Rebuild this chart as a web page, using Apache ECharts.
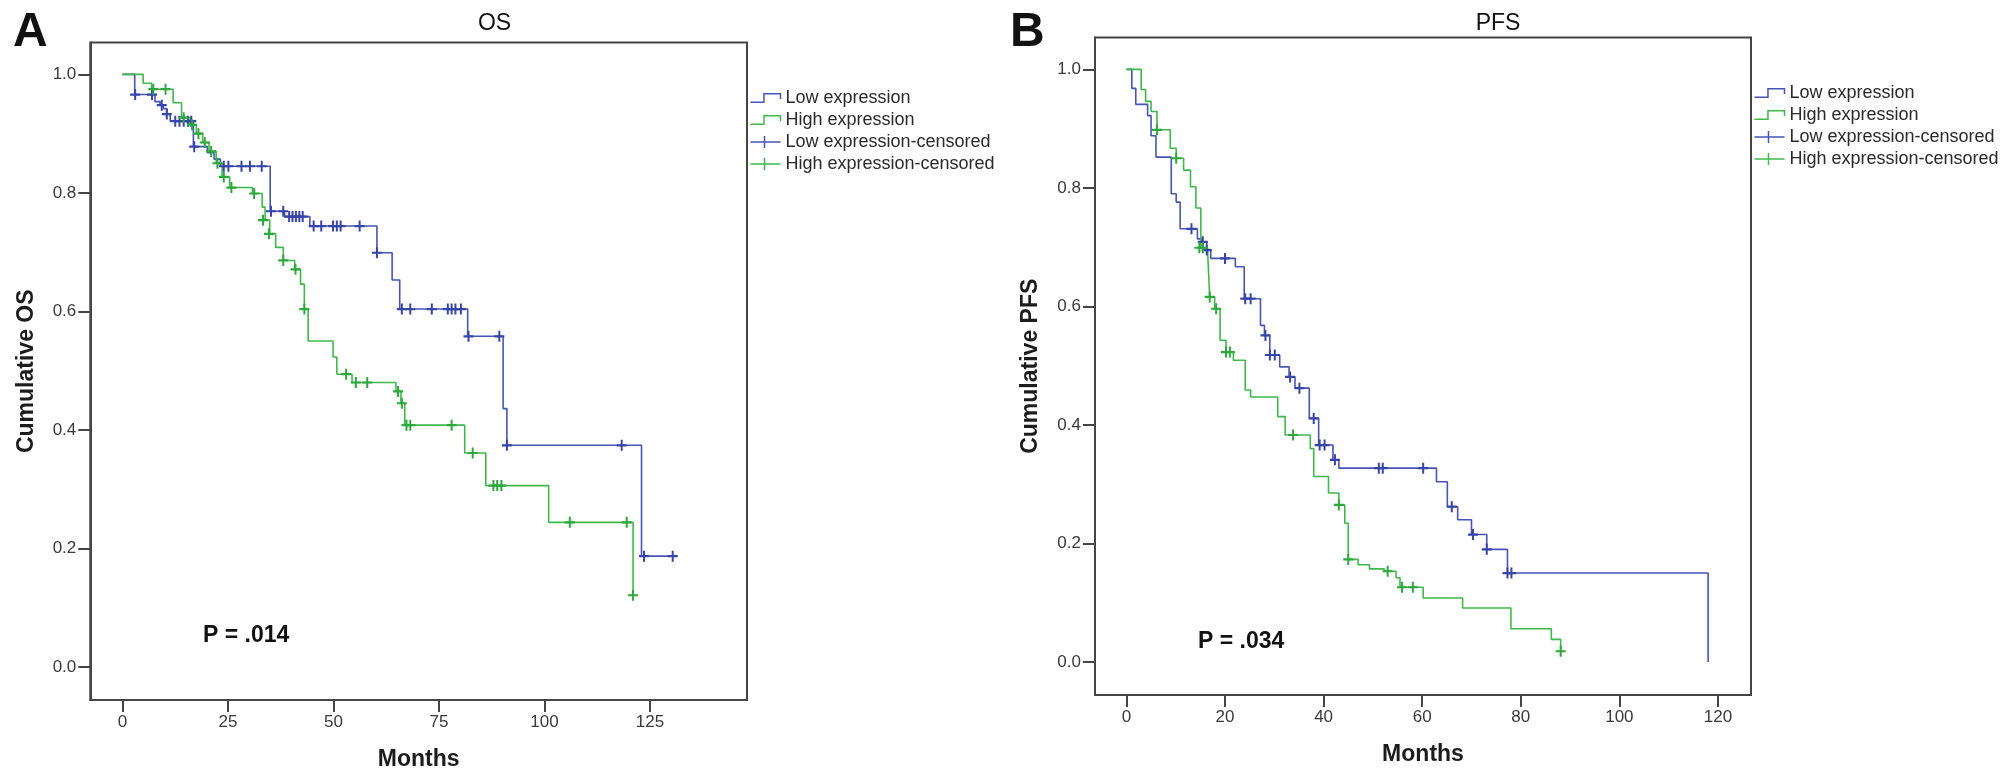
<!DOCTYPE html>
<html>
<head>
<meta charset="utf-8">
<script src="https://cdn.jsdelivr.net/npm/echarts@6/dist/echarts.min.js"></script>
<style>
html,body{margin:0;padding:0;background:#fff;}
#chart{width:2008px;height:782px;}
</style>
</head>
<body>
<div id="chart"></div>
<script>
// ---------- tick labels ----------
const osTicksX = [0, 25, 50, 75, 100, 125];
const pfsTicksX = [0, 20, 40, 60, 80, 100, 120];
const survTicks = [0, 0.2, 0.4, 0.6, 0.8, 1.0];
const legendNames = ['Low expression', 'High expression', 'Low expression-censored', 'High expression-censored'];

// ---------- OS (panel A) : [months, cumulative survival] ----------
const osLowSteps = [[0,1],[2.9,0.966],[7.7,0.954],[8.9,0.948],[9.7,0.942],[10.5,0.933],[11.3,0.921],[16.8,0.878],[20.1,0.868],[21.7,0.857],[23.2,0.845],[35,0.769],[38.4,0.76],[44.4,0.744],[60.3,0.699],[63.9,0.653],[65.7,0.604],[81.8,0.558],[90.2,0.436],[91.1,0.374],[123,0.187],[131,0.187]];
const osHighSteps = [[0,1],[4.9,0.985],[6.9,0.975],[12,0.952],[14,0.927],[16,0.915],[17.5,0.9],[19,0.885],[20.5,0.87],[22.2,0.85],[23.6,0.827],[25.4,0.809],[30.8,0.799],[33.1,0.776],[33.8,0.754],[34.9,0.731],[36.3,0.708],[38.1,0.686],[40.8,0.671],[42.2,0.646],[43.1,0.604],[44,0.55],[49.9,0.523],[50.8,0.494],[54.4,0.48],[64.8,0.465],[66,0.445],[66.9,0.408],[81.1,0.361],[86.1,0.306],[101,0.244],[121,0.121]];
const osLowCensored = [[3,0.966],[7,0.966],[9.3,0.948],[10.5,0.933],[12.5,0.921],[13.5,0.921],[14.5,0.921],[15.5,0.921],[16.3,0.921],[17,0.878],[24,0.845],[25.1,0.845],[28.2,0.845],[30.2,0.845],[33,0.845],[35.2,0.769],[38.1,0.769],[39.5,0.76],[40.3,0.76],[41.1,0.76],[41.9,0.76],[42.7,0.76],[45.3,0.744],[47.1,0.744],[49.9,0.744],[50.8,0.744],[51.7,0.744],[56.2,0.744],[60.3,0.699],[66.2,0.604],[68.2,0.604],[73.3,0.604],[77.1,0.604],[78,0.604],[78.9,0.604],[80.2,0.604],[82,0.558],[89.3,0.558],[91.1,0.374],[118.3,0.374],[123.6,0.187],[130.4,0.187]];
const osHighCensored = [[7.3,0.975],[10.2,0.975],[14.5,0.927],[16.5,0.915],[18,0.9],[19.5,0.885],[21,0.87],[22.5,0.85],[24,0.827],[25.8,0.809],[31.2,0.799],[33.3,0.754],[34.7,0.731],[38.1,0.686],[41,0.671],[43.1,0.604],[53,0.494],[55.3,0.48],[58,0.48],[65.3,0.465],[66.2,0.445],[67.3,0.408],[68.2,0.408],[78,0.408],[83,0.361],[87.9,0.306],[88.8,0.306],[89.8,0.306],[106,0.244],[119.5,0.244],[121,0.121]];

// ---------- PFS (panel B) ----------
const pfsLowSteps = [[0,1],[1.1,0.968],[1.9,0.941],[4.3,0.922],[5,0.888],[6,0.852],[9.1,0.79],[10.1,0.776],[10.9,0.731],[14.4,0.714],[15.2,0.709],[16.3,0.695],[17.1,0.681],[22.1,0.667],[23.9,0.613],[27.2,0.568],[28,0.551],[29.1,0.518],[31.1,0.498],[33,0.481],[34.2,0.462],[37.1,0.411],[39,0.366],[41.9,0.341],[43.1,0.327],[62.9,0.304],[65.1,0.262],[67.2,0.24],[70,0.215],[73.1,0.19],[77.3,0.15],[118,0.0]];
const pfsHighSteps = [[0,1],[3,0.966],[3.9,0.946],[5,0.929],[6.2,0.898],[8.9,0.867],[10.1,0.85],[11.6,0.83],[13,0.802],[14.1,0.766],[15.1,0.699],[16.5,0.688],[16.9,0.616],[17.9,0.596],[19,0.543],[20.2,0.523],[21.7,0.509],[24.1,0.459],[25.2,0.447],[30.7,0.414],[32.2,0.383],[37.3,0.36],[38,0.313],[41,0.285],[43.1,0.265],[44.3,0.234],[45,0.173],[47,0.164],[49.3,0.157],[52.3,0.153],[54.7,0.142],[55.5,0.126],[60.2,0.108],[68.2,0.091],[78,0.056],[86.2,0.038],[88.1,0.018]];
const pfsLowCensored = [[13.2,0.731],[15.5,0.709],[16.3,0.695],[20,0.681],[24.1,0.613],[25.2,0.613],[28.2,0.551],[29.1,0.518],[30.1,0.518],[33.2,0.481],[35.1,0.462],[38,0.411],[39.2,0.366],[40.2,0.366],[42.3,0.341],[51.2,0.327],[52,0.327],[60.2,0.327],[66,0.262],[70.3,0.215],[73.1,0.19],[77.3,0.15],[78.1,0.15]];
const pfsHighCensored = [[6.2,0.898],[10.1,0.85],[14.8,0.699],[15.5,0.699],[16.9,0.616],[18.2,0.596],[20.2,0.523],[21,0.523],[33.8,0.383],[43.1,0.265],[45,0.173],[53,0.153],[55.9,0.126],[58.1,0.126],[88.1,0.018]];

// ---------- styling ----------
const BLUE = '#4754b6', BLUE_D = '#3845a8';
const GREEN = '#3fb84c', GREEN_D = '#2ea83d';
const AXIS = '#454545';
const FONT = '"Liberation Sans", Arial, sans-serif';
const PLUS = 'path://M4,0H6V4H10V6H6V10H4V6H0V4H4Z';
const STEP_ICON = 'path://M0,8L13,8L13,0L29,0L29,5';
const CROSS_ICON = 'path://M0,6L30,6M14,0L14,12';

function xAxisCfg(grid, min, max, ticks) {
  return {
    type: 'value', gridIndex: grid, min: min, max: max,
    name: 'Months', nameLocation: 'middle', nameGap: 48,
    nameTextStyle: {fontSize: 23, fontWeight: 'bold', color: '#1c1c1c', fontFamily: FONT},
    axisLine: {show: true, onZero: false, lineStyle: {color: AXIS, width: 2}},
    axisTick: {show: true, inside: false, length: 12, customValues: ticks, lineStyle: {color: AXIS, width: 2}},
    axisLabel: {show: true, customValues: ticks, margin: 14, fontSize: 17, color: '#3a3a3a', fontFamily: FONT},
    splitLine: {show: false}
  };
}
function yAxisCfg(grid, name, gap) {
  return {
    type: 'value', gridIndex: grid, min: -0.0558, max: 1.0538,
    name: name, nameLocation: 'middle', nameGap: gap,
    nameTextStyle: {fontSize: 23, fontWeight: 'bold', color: '#1c1c1c', fontFamily: FONT},
    axisLine: {show: true, onZero: false, lineStyle: {color: AXIS, width: 2}},
    axisTick: {show: true, inside: false, length: 12, customValues: survTicks, lineStyle: {color: AXIS, width: 2}},
    axisLabel: {show: true, customValues: survTicks, margin: 14, fontSize: 17, color: '#3a3a3a', fontFamily: FONT,
      formatter: v => Number(v).toFixed(1)},
    splitLine: {show: false}
  };
}
function legendCfg(left, top) {
  return {
    orient: 'vertical', left: left, top: top, padding: 0, itemGap: 4,
    itemWidth: 30, itemHeight: 14, selectedMode: false,
    textStyle: {fontSize: 18, color: '#2a2a2a', fontFamily: FONT},
    data: [
      {name: legendNames[0], icon: STEP_ICON, itemStyle: {color: 'none', borderColor: BLUE, borderWidth: 1.5}},
      {name: legendNames[1], icon: STEP_ICON, itemStyle: {color: 'none', borderColor: GREEN, borderWidth: 1.5}},
      {name: legendNames[2], icon: CROSS_ICON, itemStyle: {color: 'none', borderColor: BLUE, borderWidth: 1.5}},
      {name: legendNames[3], icon: CROSS_ICON, itemStyle: {color: 'none', borderColor: GREEN, borderWidth: 1.5}}
    ]
  };
}
function stepSeries(name, idx, data, color) {
  return {name: name, type: 'line', step: 'end', xAxisIndex: idx, yAxisIndex: idx, data: data,
    symbol: 'none', showSymbol: false, color: color, lineStyle: {color: color, width: 1.6}, z: 2};
}
function censorSeries(name, idx, data, color) {
  return {name: name, type: 'scatter', xAxisIndex: idx, yAxisIndex: idx, data: data,
    symbol: PLUS, symbolSize: [10, 11], color: color, itemStyle: {color: color, opacity: 1}, z: 3};
}
function txt(x, y, text, size, weight, align) {
  return {type: 'text', x: x, y: y, silent: true,
    style: {text: text, fontSize: size, fontWeight: weight, fontFamily: FONT, fill: '#111',
      align: align, verticalAlign: 'middle'}};
}

const chart = echarts.init(document.getElementById('chart'), null, {renderer: 'canvas'});
chart.setOption({
  backgroundColor: '#fff',
  animation: false,
  grid: [
    {left: 90.3, top: 42.5, width: 656.7, height: 657.5, show: true, borderColor: AXIS, borderWidth: 2, containLabel: false, outerBoundsMode: 'none'},
    {left: 1095, top: 37.5, width: 656, height: 657.5, show: true, borderColor: AXIS, borderWidth: 2, containLabel: false, outerBoundsMode: 'none'}
  ],
  xAxis: [xAxisCfg(0, -7.63, 148.0, osTicksX), xAxisCfg(1, -6.37, 126.7, pfsTicksX)],
  yAxis: [yAxisCfg(0, 'Cumulative OS', 52), yAxisCfg(1, 'Cumulative PFS', 53)],
  legend: [legendCfg(748, 89), legendCfg(1752, 84)],
  series: [
    stepSeries(legendNames[0], 0, osLowSteps, BLUE),
    stepSeries(legendNames[1], 0, osHighSteps, GREEN),
    censorSeries(legendNames[2], 0, osLowCensored, BLUE_D),
    censorSeries(legendNames[3], 0, osHighCensored, GREEN_D),
    stepSeries(legendNames[0], 1, pfsLowSteps, BLUE),
    stepSeries(legendNames[1], 1, pfsHighSteps, GREEN),
    censorSeries(legendNames[2], 1, pfsLowCensored, BLUE_D),
    censorSeries(legendNames[3], 1, pfsHighCensored, GREEN_D)
  ],
  graphic: [
    txt(13, 33, 'A', 48, 'bold', 'left'),
    txt(1010, 33, 'B', 48, 'bold', 'left'),
    txt(494.5, 24, 'OS', 23, 'normal', 'center'),
    txt(1498, 24, 'PFS', 23, 'normal', 'center'),
    txt(203, 636, 'P = .014', 23, 'bold', 'left'),
    txt(1198, 642, 'P = .034', 23, 'bold', 'left')
  ]
});
</script>
</body>
</html>
